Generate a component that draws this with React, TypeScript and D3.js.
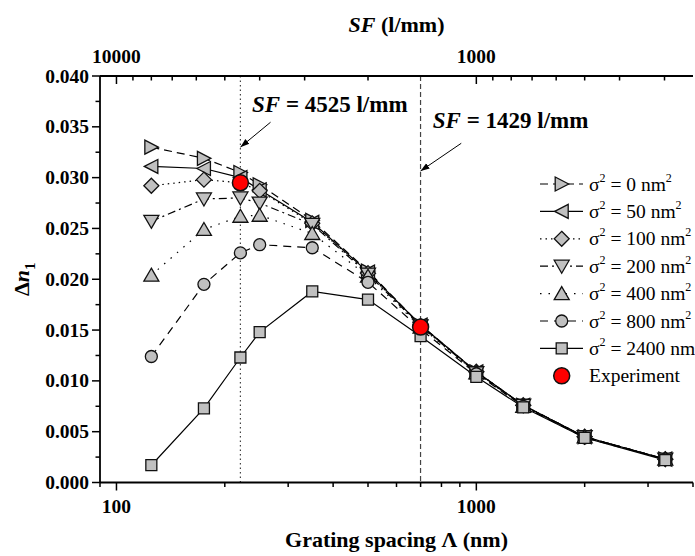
import React from "react";
import * as d3 from "d3";

// ---------- data ----------
const lambdaNm = [125, 175, 221, 250, 350, 500, 700, 1000, 1350, 2000, 3350];
const sigmaLabels = ["0", "50", "100", "200", "400", "800", "2400"];
const dnSigma0 = [0.0330, 0.0319, 0.0305, 0.0293, 0.0258, 0.0208, 0.0155, 0.0109, 0.0076, 0.0045, 0.0023];
const dnSigma50 = [0.0311, 0.0309, 0.0300, 0.0288, 0.0256, 0.0207, 0.0155, 0.0109, 0.0076, 0.0045, 0.0023];
const dnSigma100 = [0.0292, 0.0298, 0.0295, 0.0287, 0.0255, 0.0206, 0.0154, 0.0109, 0.0076, 0.0045, 0.0023];
const dnSigma200 = [0.0257, 0.0279, 0.0280, 0.0275, 0.0254, 0.0205, 0.0154, 0.0108, 0.0076, 0.0045, 0.0023];
const dnSigma400 = [0.0204, 0.0249, 0.0262, 0.0263, 0.0245, 0.0203, 0.0153, 0.0108, 0.0075, 0.0045, 0.0023];
const dnSigma800 = [0.0124, 0.0195, 0.0226, 0.0234, 0.0231, 0.0197, 0.0151, 0.0107, 0.0075, 0.0044, 0.0023];
const dnSigma2400 = [0.0017, 0.0073, 0.0123, 0.0148, 0.0188, 0.0180, 0.0144, 0.0104, 0.0074, 0.0044, 0.0022];
const expLambda = [221, 700];
const expDn = [0.0295, 0.0153];

const xMajorTicks = [100, 1000];
const xMinorTicks = [90, 200, 300, 400, 500, 600, 700, 800, 900, 2000, 3000, 4000];
const sfMajorTicks = [10000, 1000];
const sfMinorTicks = [9000, 8000, 7000, 6000, 5000, 4000, 3000, 2000, 900, 800, 700, 600, 500, 400, 300];
const yMajorTicks = [0, 0.005, 0.01, 0.015, 0.02, 0.025, 0.03, 0.035, 0.04];
const yMinorTicks = [0.0025, 0.0075, 0.0125, 0.0175, 0.0225, 0.0275, 0.0325, 0.0375];

const refSF = [4525, 1429];
const refDash = ["1.5,3", "5,3"];
// annotation anchors in data coordinates (lambda nm, dn)
const annTextLambda = [238, 757];
const annTextDn = [0.03649, 0.03486];
const arrowFromLambda = [268, 908];
const arrowFromDn = [0.03545, 0.03338];
const arrowToDn = [0.0330, 0.03065];

// ---------- styles ----------
const seriesData = [dnSigma0, dnSigma50, dnSigma100, dnSigma200, dnSigma400, dnSigma800, dnSigma2400];
const shapes = ["right", "left", "diamond", "down", "up", "circle", "square"];
const dashes = ["8,5", "", "1.5,4", "8,4,2,4", "1.5,7", "8,6", ""];

const W = 695, H = 556;
const M = { left: 100, right: 693, top: 76, bottom: 482.5 };
const FONT = "'Liberation Serif', 'Times New Roman', serif";

function shapePath(kind: string): string {
  switch (kind) {
    case "right": return "M7,0L-6.5,-7L-6.5,7Z";
    case "left": return "M-7,0L6.5,-7L6.5,7Z";
    case "up": return "M0,-7L7.5,6L-7.5,6Z";
    case "down": return "M0,7L7.5,-6L-7.5,-6Z";
    case "diamond": return "M0,-7.5L7.5,0L0,7.5L-7.5,0Z";
    case "square": return "M-5.5,-5.5H5.5V5.5H-5.5Z";
    case "circle":
    default: return "M6,0A6,6 0 1,1 -6,0A6,6 0 1,1 6,0Z";
  }
}

export default function App() {
  const x = d3.scaleLog().domain([90, 4000]).range([M.left, M.right]);
  const y = d3.scaleLinear().domain([0, 0.04]).range([M.bottom, M.top]);
  const line = d3
    .line<[number, number]>()
    .x((d) => x(d[0]))
    .y((d) => y(d[1]));

  const fmtY = d3.format(".3f");

  const legendX0 = 540, legendX1 = 583, legendSym = 561.7, legendText = 589;
  const legendY0 = 184, legendDY = 27.4;

  return (
    <svg
      width={W}
      height={H}
      style={{ position: "absolute", left: 0, top: 0, background: "#fff" }}
      fontFamily={FONT}
    >
      <defs>
        <marker id="ah" viewBox="0 0 10 10" refX="10" refY="5" markerWidth="9" markerHeight="9" orient="auto" markerUnits="userSpaceOnUse">
          <path d="M0,1.5L10,5L0,8.5Z" fill="#000" />
        </marker>
      </defs>

      {/* reference lines */}
      {refSF.map((sf, i) => (
        <line
          key={"ref" + i}
          x1={x(1e6 / sf)}
          x2={x(1e6 / sf)}
          y1={M.top}
          y2={M.bottom}
          stroke="#444"
          strokeWidth={1.2}
          strokeDasharray={refDash[i]}
        />
      ))}

      {/* series lines */}
      {seriesData.map((vals, i) => (
        <path
          key={"l" + i}
          d={line(lambdaNm.map((l, j) => [l, vals[j]] as [number, number])) || ""}
          fill="none"
          stroke="#000"
          strokeWidth={1.2}
          strokeDasharray={dashes[i] || undefined}
        />
      ))}
      {/* series markers */}
      {seriesData.map((vals, i) => (
        <g key={"m" + i}>
          {lambdaNm.map((l, j) => (
            <path
              key={j}
              d={shapePath(shapes[i])}
              transform={`translate(${x(l)},${y(vals[j])})`}
              fill="#c0c0c0"
              stroke="#111"
              strokeWidth={1.3}
            />
          ))}
        </g>
      ))}
      {/* experiment */}
      {expLambda.map((l, j) => (
        <circle key={"e" + j} cx={x(l)} cy={y(expDn[j])} r={8} fill="#ff0000" stroke="#111" strokeWidth={1.5} />
      ))}

      {/* axes */}
      <g stroke="#000" strokeWidth={1.8}>
        <line x1={M.left} x2={M.right} y1={M.bottom} y2={M.bottom} />
        <line x1={M.left} x2={M.right} y1={M.top} y2={M.top} />
        <line x1={M.left} x2={M.left} y1={M.top} y2={M.bottom} />
      </g>
      {/* ticks */}
      <g stroke="#000" strokeWidth={1.5}>
        {xMajorTicks.map((t) => (
          <line key={"bx" + t} x1={x(t)} x2={x(t)} y1={M.bottom} y2={M.bottom + 8} />
        ))}
        {xMinorTicks.map((t) => (
          <line key={"bm" + t} x1={x(t)} x2={x(t)} y1={M.bottom} y2={M.bottom + 4.5} />
        ))}
        {sfMajorTicks.map((t) => (
          <line key={"tx" + t} x1={x(1e6 / t)} x2={x(1e6 / t)} y1={M.top} y2={M.top + 8} />
        ))}
        {sfMinorTicks.map((t) => (
          <line key={"tm" + t} x1={x(1e6 / t)} x2={x(1e6 / t)} y1={M.top} y2={M.top + 4.5} />
        ))}
        {yMajorTicks.map((t) => (
          <line key={"ly" + t} x1={M.left - 8} x2={M.left} y1={y(t)} y2={y(t)} />
        ))}
        {yMinorTicks.map((t) => (
          <line key={"lm" + t} x1={M.left - 4.5} x2={M.left} y1={y(t)} y2={y(t)} />
        ))}
      </g>

      {/* tick labels */}
      <g fontWeight="bold" fontSize={19.5} fill="#000">
        {xMajorTicks.map((t) => (
          <text key={"bxl" + t} x={x(t)} y={M.bottom + 30} textAnchor="middle">{t}</text>
        ))}
        {sfMajorTicks.map((t) => (
          <text key={"txl" + t} x={x(1e6 / t)} y={M.top - 13} textAnchor="middle">{t}</text>
        ))}
        {yMajorTicks.map((t) => (
          <text key={"lyl" + t} x={M.left - 11} y={y(t) + 6.5} textAnchor="end">{fmtY(t)}</text>
        ))}
      </g>

      {/* axis titles */}
      <text x={(M.left + M.right) / 2} y={547} textAnchor="middle" fontWeight="bold" fontSize={22}>
        Grating spacing Λ (nm)
      </text>
      <text x={(M.left + M.right) / 2} y={32} textAnchor="middle" fontWeight="bold" fontSize={22}>
        <tspan fontStyle="italic">SF</tspan> (l/mm)
      </text>
      <text
        transform={`translate(29,${(M.top + M.bottom) / 2}) rotate(-90)`}
        textAnchor="middle"
        fontWeight="bold"
        fontSize={22}
      >
        Δ<tspan fontStyle="italic">n</tspan>
        <tspan fontSize={15} dy={6}>1</tspan>
      </text>

      {/* annotations */}
      {refSF.map((sf, i) => (
        <g key={"ann" + i}>
          <text x={x(annTextLambda[i])} y={y(annTextDn[i])} fontWeight="bold" fontSize={23}>
            <tspan fontStyle="italic">SF</tspan> = {sf} l/mm
          </text>
          <line
            x1={x(arrowFromLambda[i])}
            y1={y(arrowFromDn[i])}
            x2={x(1e6 / sf)}
            y2={y(arrowToDn[i])}
            stroke="#000"
            strokeWidth={1}
            markerEnd="url(#ah)"
          />
        </g>
      ))}

      {/* legend */}
      {sigmaLabels.map((s, i) => {
        const ly = legendY0 + i * legendDY;
        return (
          <g key={"lg" + i}>
            <line x1={legendX0} x2={legendX1} y1={ly} y2={ly} stroke="#000" strokeWidth={1.2} strokeDasharray={dashes[i] || undefined} />
            <path d={shapePath(shapes[i])} transform={`translate(${legendSym},${ly})`} fill="#c0c0c0" stroke="#111" strokeWidth={1.3} />
            <text x={legendText} y={ly + 6.5} fontSize={19.5}>
              σ<tspan fontSize={12} dy={-9}>2</tspan>
              <tspan dy={9}> = {s} nm</tspan>
              <tspan fontSize={12} dy={-9}>2</tspan>
            </text>
          </g>
        );
      })}
      <circle cx={legendSym} cy={legendY0 + 7 * legendDY} r={8} fill="#ff0000" stroke="#111" strokeWidth={1.5} />
      <text x={legendText} y={legendY0 + 7 * legendDY + 6.5} fontSize={19.5}>Experiment</text>
    </svg>
  );
}
